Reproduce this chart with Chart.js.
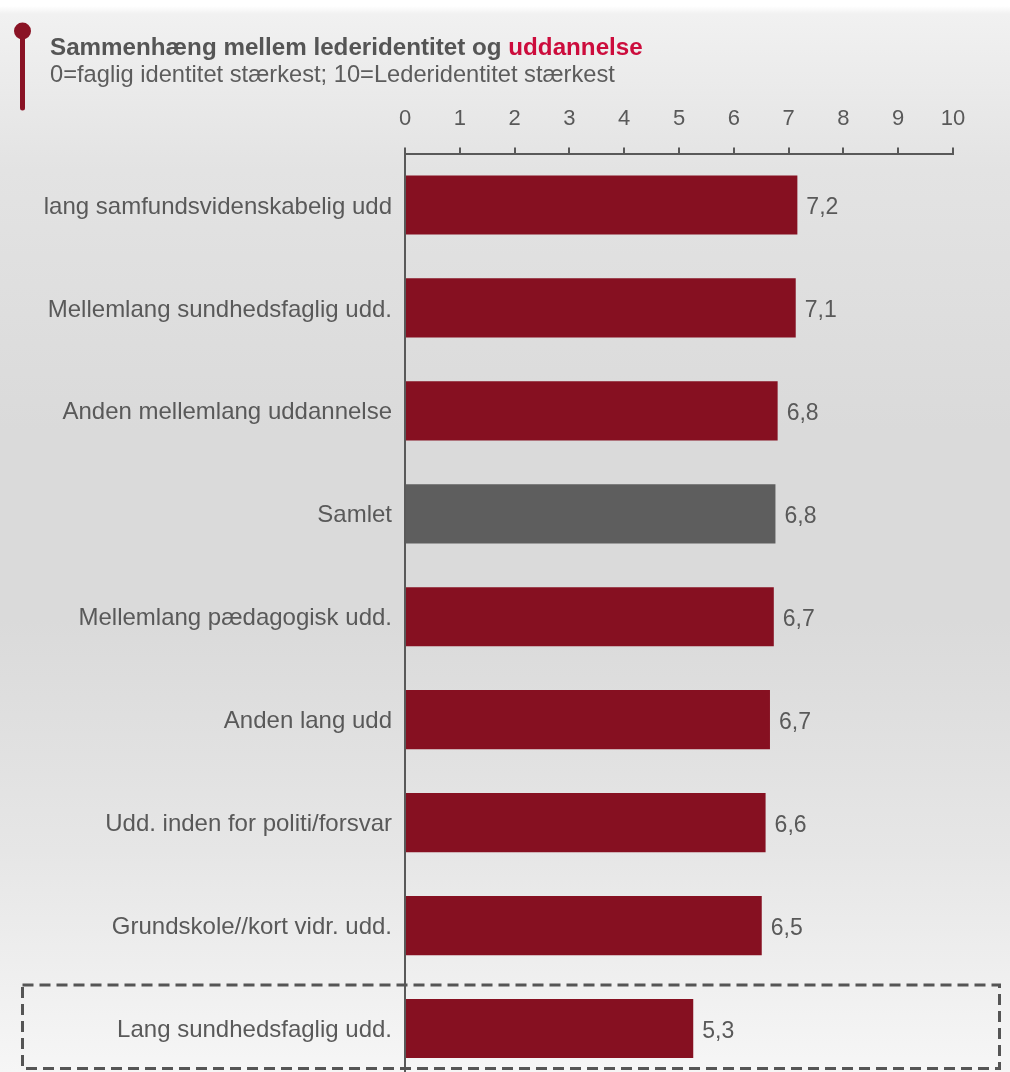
<!DOCTYPE html>
<html><head><meta charset="utf-8">
<script src="https://cdn.jsdelivr.net/npm/chart.js@4.4.1/dist/chart.umd.min.js"></script>
<style>
html,body{margin:0;padding:0;overflow:hidden;width:1010px;height:1072px;}
body{background:linear-gradient(to bottom,#ffffff 0px,#ffffff 6px,#f1f1f1 14px,#e3e3e3 170px,#dadada 430px,#dadada 620px,#e6e6e6 850px,#f6f6f6 1072px);}
#wrap{position:absolute;left:0;top:0;width:1010px;height:1080px;}
</style></head><body>
<div id="wrap"><canvas id="c"></canvas></div>
<script>
const categories = [
  'lang samfundsvidenskabelig udd',
  'Mellemlang sundhedsfaglig udd.',
  'Anden mellemlang uddannelse',
  'Samlet',
  'Mellemlang pædagogisk udd.',
  'Anden lang udd',
  'Udd. inden for politi/forsvar',
  'Grundskole//kort vidr. udd.',
  'Lang sundhedsfaglig udd.'
];
const values = [7.16, 7.13, 6.80, 6.76, 6.73, 6.66, 6.58, 6.51, 5.26];
const xTicks = [0, 1, 2, 3, 4, 5, 6, 7, 8, 9, 10];
const totalCategory = 'Samlet';
const highlightedCategory = 'Lang sundhedsfaglig udd.';
const titleMain = 'Sammenhæng mellem lederidentitet og ';
const titleAccent = 'uddannelse';
const subtitle = '0=faglig identitet stærkest; 10=Lederidentitet stærkest';

const RED = '#861021';
const GRAY = '#5e5e5e';
const TEXT = '#595959';
const FONT = '"Liberation Sans", Arial, sans-serif';
Chart.defaults.font.family = FONT;

function fmt(v) { return (Math.round(v * 10) / 10).toFixed(1).replace('.', ','); }

const decorPlugin = {
  id: 'decor',
  afterDatasetsDraw(chart) {
    const ctx = chart.ctx;
    const meta = chart.getDatasetMeta(0);
    ctx.save();
    ctx.font = '23px ' + FONT;
    ctx.fillStyle = TEXT;
    ctx.textAlign = 'left';
    ctx.textBaseline = 'middle';
    meta.data.forEach((bar, i) => ctx.fillText(fmt(values[i]), bar.x + 9, bar.y + 3));
    ctx.restore();
  },
  afterDraw(chart) {
    const ctx = chart.ctx;
    ctx.save();
    // pin marker
    ctx.strokeStyle = '#8a1325';
    ctx.fillStyle = '#8a1325';
    ctx.lineWidth = 5;
    ctx.lineCap = 'round';
    ctx.beginPath(); ctx.moveTo(22.5, 32); ctx.lineTo(22.5, 108); ctx.stroke();
    ctx.beginPath(); ctx.arc(22.5, 31, 8.5, 0, Math.PI * 2); ctx.fill();
    // title
    ctx.textAlign = 'left';
    ctx.textBaseline = 'middle';
    ctx.font = 'bold 24.2px ' + FONT;
    ctx.fillStyle = '#555555';
    ctx.fillText(titleMain, 50, 48);
    const w = ctx.measureText(titleMain).width;
    ctx.fillStyle = '#cc0c3c';
    ctx.fillText(titleAccent, 50 + w, 48);
    ctx.font = '23.7px ' + FONT;
    ctx.fillStyle = '#5c5c5c';
    ctx.fillText(subtitle, 50, 75);
    // dashed highlight box
    const ys = chart.scales.y;
    const idx = categories.indexOf(highlightedCategory);
    const cy = ys.getPixelForValue(idx);
    ctx.setLineDash([11, 6]);
    ctx.lineWidth = 3;
    ctx.lineCap = 'butt';
    ctx.strokeStyle = '#555555';
    ctx.strokeRect(22.5, cy - 43.5, 977, 83.5);
    ctx.restore();
  }
};

new Chart(document.getElementById('c'), {
  type: 'bar',
  data: {
    labels: categories,
    datasets: [{
      data: values,
      backgroundColor: ctx => categories[ctx.dataIndex] === totalCategory ? GRAY : RED,
      borderWidth: 0,
      categoryPercentage: 1,
      barPercentage: 0.575
    }]
  },
  options: {
    indexAxis: 'y',
    responsive: true,
    maintainAspectRatio: false,
    animation: false,
    layout: { padding: { left: 0, right: 57, top: 0, bottom: 0 } },
    plugins: { legend: { display: false }, tooltip: { enabled: false } },
    scales: {
      x: {
        position: 'top',
        min: 0, max: 10,
        afterBuildTicks: s => { s.ticks = xTicks.map(v => ({ value: v })); },
        ticks: { color: TEXT, font: { size: 22 }, padding: 15, maxRotation: 0 },
        grid: { display: true, drawOnChartArea: false, drawTicks: true, tickLength: 6, color: TEXT, lineWidth: 2 },
        border: { display: true, color: TEXT, width: 2 },
        afterFit: s => { s.height = 153.5; s.paddingLeft = 0; s.paddingRight = 0; }
      },
      y: {
        ticks: { color: TEXT, font: { size: 24 }, padding: 13, labelOffset: 2 },
        grid: { display: false, drawTicks: false, tickLength: 0 },
        border: { display: true, color: TEXT, width: 2 },
        afterFit: s => { s.width = 405; s.paddingTop = 0; s.paddingBottom = 0; }
      }
    }
  },
  plugins: [decorPlugin]
});
</script>
</body></html>
